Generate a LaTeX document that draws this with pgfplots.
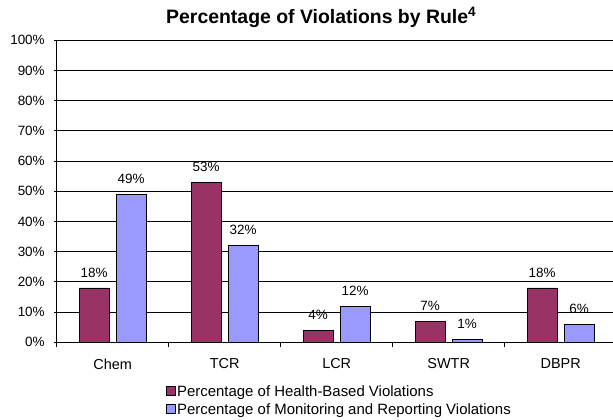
\documentclass[border=0pt]{standalone}
\usepackage{fontspec}
\setmainfont{Liberation Sans}
\usepackage{pgfplots}
\pgfplotsset{compat=1.18}
\definecolor{hb}{HTML}{993366}
\definecolor{mr}{HTML}{9999FF}
\begin{document}
\begin{tikzpicture}[x=1bp,y=1bp]
\begin{axis}[
  at={(56.7bp,77.7bp)}, anchor=south west,
  scale only axis, width=560bp, height=302bp,
  /pgf/number format/assume math mode=true,
  ymin=0, ymax=100, ytick={0,10,...,100},
  yticklabel={\pgfmathprintnumber{\tick}\%},
  xmin=-0.5, xmax=4.5,
  xtick={0,1,2,3,4},
  xticklabels={Chem,TCR,LCR,SWTR,DBPR},
  minor xtick={-0.5,0.5,1.5,2.5,3.5,4.5},
  every major x tick/.append style={draw=none},
  every minor x tick/.append style={black},
  minor tick length=5bp, major tick length=5bp,
  tick align=outside,
  axis x line=bottom, axis y line=left,
  axis line style={black, line width=1bp, -},
  ymajorgrids, grid style={black, line width=0.8bp},
  tick style={black, line width=0.8bp},
  yticklabel style={font=\fontsize{13.5}{15}\selectfont, xshift=-6bp},
  xticklabel style={font=\fontsize{14.5}{16}\selectfont, yshift=-8bp},
  ybar, bar width=30bp,
  nodes near coords={\pgfmathprintnumber{\pgfplotspointmeta}\%},
  every node near coord/.append style={font=\fontsize{13.5}{15}\selectfont, yshift=7bp},
  legend style={at={(0.194,-0.135)}, anchor=north west, draw=none, fill=none,
    font=\fontsize{15}{17}\selectfont, row sep=2bp, inner sep=0pt},
  legend cell align=left,
  legend image code/.code={\draw[#1, line width=0.6bp] (0bp,-4bp) rectangle (9bp,5bp);},
  clip=false,
]
\addplot[bar shift=-18.5bp, fill=hb, draw=black, line width=0.8bp] coordinates {(0,18) (1,53) (2,4) (3,7) (4,18)};
\addplot[bar shift=18.5bp, fill=mr, draw=black, line width=0.8bp] coordinates {(0,49) (1,32) (2,12) (3,1) (4,6)};
\legend{Percentage of Health-Based Violations, Percentage of Monitoring and Reporting Violations}
\end{axis}
\node[anchor=base west, inner sep=0pt, font=\fontsize{19.5}{22}\selectfont\bfseries] at (166bp,396bp) {Percentage of Violations by Rule\textsuperscript{4}};
\pgfresetboundingbox
\useasboundingbox (0,0) rectangle (613bp,420bp);
\end{tikzpicture}
\end{document}
